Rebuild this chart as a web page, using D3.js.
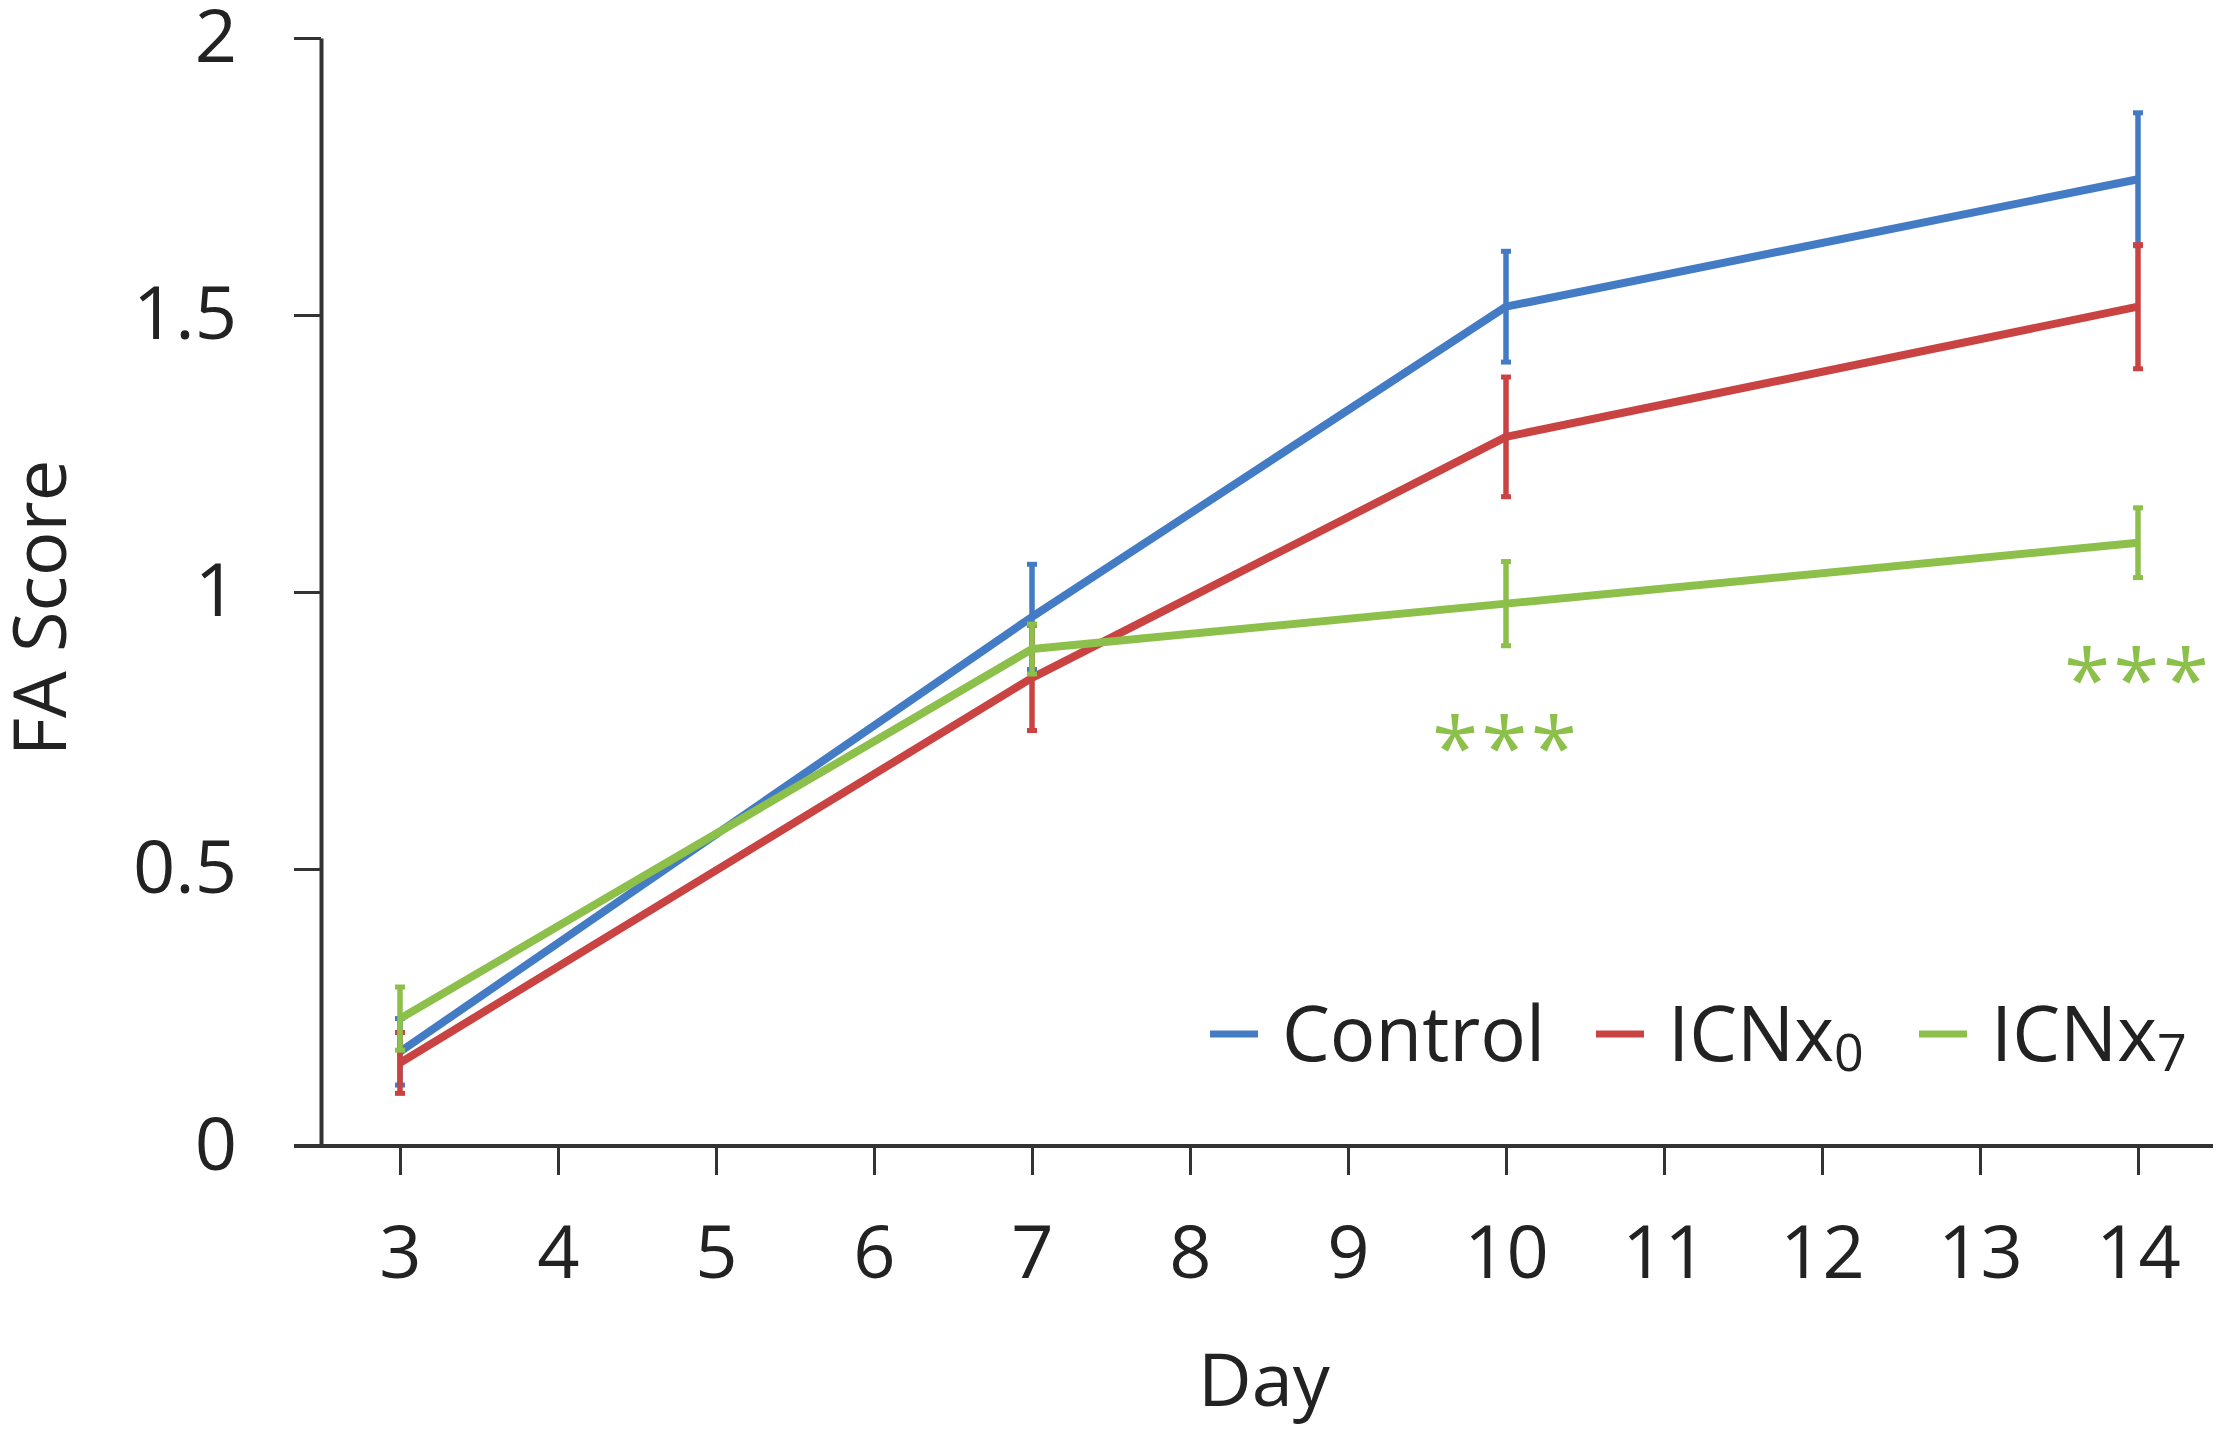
<!DOCTYPE html>
<html>
<head>
<meta charset="utf-8">
<script src="https://cdn.jsdelivr.net/npm/d3@7"></script>
<style>
  html, body { margin: 0; padding: 0; background: #fff; }
  svg { display: block; }
  text { font-family: "Open Sans", "Noto Sans", sans-serif; fill: #222; }
</style>
</head>
<body>
<svg id="chart" width="2227" height="1437"></svg>
<script>
// ---- data ----
const days = [3, 7, 10, 14];
const xTicks = [3, 4, 5, 6, 7, 8, 9, 10, 11, 12, 13, 14];
const yTicks = [0, 0.5, 1, 1.5, 2];
const seriesNames = ["Control", "ICNx0", "ICNx7"];
const controlValues = [0.17, 0.955, 1.515, 1.745];
const controlErrors = [0.06, 0.095, 0.10, 0.12];
const icnx0Values = [0.15, 0.845, 1.28, 1.515];
const icnx0Errors = [0.055, 0.095, 0.108, 0.112];
const icnx7Values = [0.23, 0.897, 0.979, 1.089];
const icnx7Errors = [0.057, 0.045, 0.076, 0.063];
const significantDays = [10, 14];
const significanceLabel = "***";

const colors = ["#437cc4", "#c94342", "#8cc04b"];
const series = [
  { name: "Control", base: "Control", sub: "", values: controlValues, errors: controlErrors, color: colors[0] },
  { name: "ICNx0", base: "ICNx", sub: "0", values: icnx0Values, errors: icnx0Errors, color: colors[1] },
  { name: "ICNx7", base: "ICNx", sub: "7", values: icnx7Values, errors: icnx7Errors, color: colors[2] }
];

const svg = d3.select("#chart");
const x = d3.scaleLinear().domain([3, 14]).range([400, 2138]);
const y = d3.scaleLinear().domain([0, 2]).range([1146, 38]);
const axisColor = "#333";

// x axis
const xAxisG = svg.append("g").attr("transform", `translate(0,${y(0)})`)
  .call(d3.axisBottom(x).tickValues(xTicks).tickSize(29).tickSizeOuter(0).tickPadding(50));
xAxisG.select(".domain").remove();
xAxisG.selectAll(".tick line").attr("stroke", axisColor).attr("stroke-width", 3);
xAxisG.selectAll(".tick text").attr("font-size", 74).attr("fill", "#222")
  .attr("font-family", "'Open Sans', sans-serif");
svg.append("line").attr("x1", 294).attr("x2", 2213).attr("y1", y(0)).attr("y2", y(0))
  .attr("stroke", axisColor).attr("stroke-width", 4);

// y axis
const yAxisG = svg.append("g").attr("transform", "translate(321,0)")
  .call(d3.axisLeft(y).tickValues(yTicks).tickSize(27).tickSizeOuter(0).tickPadding(57)
    .tickFormat(d3.format("")));
yAxisG.select(".domain").attr("stroke", axisColor).attr("stroke-width", 4);
yAxisG.selectAll(".tick line").attr("stroke", axisColor).attr("stroke-width", 3);
yAxisG.selectAll(".tick text").attr("font-size", 74).attr("fill", "#222")
  .attr("font-family", "'Open Sans', sans-serif");

// axis titles
svg.append("text").attr("x", 1264).attr("y", 1406).attr("text-anchor", "middle")
  .attr("font-size", 74).text("Day");
svg.append("text").attr("transform", "translate(66,608) rotate(-90)").attr("text-anchor", "middle")
  .attr("font-size", 74).text("FA Score");

// lines and error bars
const line = d3.line().x((d, i) => x(days[i])).y(d => y(d));
series.forEach(s => {
  const g = svg.append("g");
  g.selectAll("line.err").data(s.values).join("line").attr("class", "err")
    .attr("x1", (d, i) => x(days[i])).attr("x2", (d, i) => x(days[i]))
    .attr("y1", (d, i) => y(d - s.errors[i])).attr("y2", (d, i) => y(d + s.errors[i]))
    .attr("stroke", s.color).attr("stroke-width", 5.5);
  ["top", "bot"].forEach(k => {
    g.selectAll("line.cap" + k).data(s.values).join("line").attr("class", "cap" + k)
      .attr("x1", (d, i) => x(days[i]) - 5).attr("x2", (d, i) => x(days[i]) + 5)
      .attr("y1", (d, i) => y(k === "top" ? d + s.errors[i] : d - s.errors[i]))
      .attr("y2", (d, i) => y(k === "top" ? d + s.errors[i] : d - s.errors[i]))
      .attr("stroke", s.color).attr("stroke-width", 5);
  });
  g.append("path").datum(s.values).attr("d", line).attr("fill", "none")
    .attr("stroke", s.color).attr("stroke-width", 8).attr("stroke-linejoin", "round");
});

// significance stars
const green = series[2];
svg.selectAll("text.sig").data(significantDays).join("text").attr("class", "sig")
  .attr("x", d => x(d)).attr("text-anchor", "middle")
  .attr("y", d => { const i = days.indexOf(d); return y(green.values[i] - green.errors[i]) + 132; })
  .attr("font-size", 84).attr("letter-spacing", 3).style("fill", green.color)
  .text(significanceLabel);

// legend
const legendX = [1210, 1596, 1919];
const leg = svg.append("g");
series.forEach((s, i) => {
  leg.append("line").attr("x1", legendX[i]).attr("x2", legendX[i] + 48)
    .attr("y1", 1034).attr("y2", 1034).attr("stroke", s.color).attr("stroke-width", 7);
  const t = leg.append("text").attr("x", legendX[i] + 72).attr("y", 1061).attr("font-size", 76);
  t.append("tspan").text(s.base);
  if (s.sub) t.append("tspan").attr("font-size", 52).attr("dy", 10).text(s.sub);
});
</script>
</body>
</html>
